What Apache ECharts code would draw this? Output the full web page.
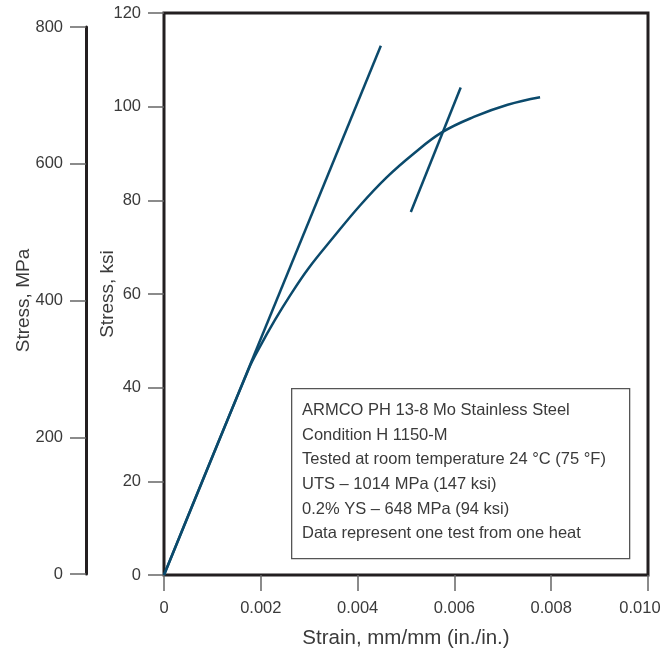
<!DOCTYPE html>
<html><head><meta charset="utf-8">
<script src="https://cdn.jsdelivr.net/npm/echarts@6/dist/echarts.min.js"></script>
<style>html,body{margin:0;padding:0;background:#fff;overflow:hidden}#c{width:663px;height:650px}</style>
</head><body><div id="c"></div>
<script>
const FONT = '"Liberation Sans",Arial,sans-serif';
const TXT = '#3a3a3a';
const LINE = '#0b4a6c';

// Stress-strain curve (strain mm/mm, stress ksi)
const curveStrain = [0, 0.00175, 0.00198, 0.00229, 0.0026, 0.00298, 0.0035, 0.00405, 0.0046, 0.00515, 0.00574, 0.0064, 0.0071, 0.00777];
const curveKsi    = [0, 44.0,    48.7,    54.4,    59.6,   65.4,    72.1,   78.9,    84.9,   89.9,    94.5,    97.8,   100.4,  102.0];
// Modulus line
const modulusStrain = [0, 0.00448];
const modulusKsi    = [0, 113.0];
// 0.2% offset line
const offsetStrain = [0.0051, 0.00613];
const offsetKsi    = [77.5, 104.1];

const xTicks = [0, 0.002, 0.004, 0.006, 0.008, 0.010];
const ksiTicks = [0, 20, 40, 60, 80, 100, 120];
const mpaTicks = [0, 200, 400, 600, 800];

const noteLines = [
  'ARMCO PH 13-8 Mo Stainless Steel',
  'Condition H 1150-M',
  'Tested at room temperature 24 °C (75 °F)',
  'UTS – 1014 MPa (147 ksi)',
  '0.2% YS – 648 MPa (94 ksi)',
  'Data represent one test from one heat'
];

const zip = (a, b) => a.map((v, i) => [v, b[i]]);
const chart = echarts.init(document.getElementById('c'), null, {renderer: 'canvas', width: 663, height: 650});
const tickStyle = {show: true, length: 16, lineStyle: {color: '#666', width: 1.5}};
const lbl = {color: TXT, fontFamily: FONT, fontSize: 16.5};
const xMax = xTicks[xTicks.length - 1];

chart.setOption({
  animation: false,
  grid: [
    {left: 164, right: 15, top: 13, bottom: 75, show: true, borderColor: '#231f20', borderWidth: 3,
     backgroundColor: 'transparent', containLabel: false, outerBoundsMode: 'none'},
    {left: 86, width: 1, top: 27, bottom: 76, show: false, containLabel: false, outerBoundsMode: 'none'}
  ],
  xAxis: [
    {type: 'value', gridIndex: 0, min: xTicks[0], max: xMax, interval: 0.002,
     axisLine: {show: false}, axisTick: tickStyle, splitLine: {show: false},
     axisLabel: Object.assign({}, lbl, {margin: 25,
       formatter: v => v === 0 ? '0' : (Math.abs(v - xMax) < 1e-9 ? '{last|' + v.toFixed(3) + '}' : v.toFixed(3)),
       rich: {last: {color: TXT, fontFamily: FONT, fontSize: 16.5, padding: [0, 16, 0, 0]}}}),
     name: 'Strain, mm/mm (in./in.)', nameLocation: 'middle', nameGap: 53, nameMoveOverlap: false,
     nameTextStyle: {color: TXT, fontFamily: FONT, fontSize: 20.5}},
    {type: 'value', gridIndex: 1, show: false, min: 0, max: 1}
  ],
  yAxis: [
    {type: 'value', gridIndex: 0, min: ksiTicks[0], max: ksiTicks[ksiTicks.length - 1], interval: 20,
     axisLine: {show: false}, axisTick: tickStyle, splitLine: {show: false},
     axisLabel: Object.assign({}, lbl, {margin: 23}),
     name: 'Stress, ksi', nameLocation: 'middle', nameGap: 47, nameRotate: 90, nameMoveOverlap: false,
     nameTextStyle: {color: TXT, fontFamily: FONT, fontSize: 19}},
    {type: 'value', gridIndex: 1, min: mpaTicks[0], max: mpaTicks[mpaTicks.length - 1], interval: 200,
     axisLine: {show: true, lineStyle: {color: '#231f20', width: 3}}, axisTick: tickStyle, splitLine: {show: false},
     axisLabel: Object.assign({}, lbl, {margin: 23}),
     name: 'Stress, MPa', nameLocation: 'middle', nameGap: 53, nameRotate: 90, nameMoveOverlap: false,
     nameTextStyle: {color: TXT, fontFamily: FONT, fontSize: 19}}
  ],
  series: [
    {type: 'line', xAxisIndex: 0, yAxisIndex: 0, data: zip(modulusStrain, modulusKsi), symbol: 'none',
     lineStyle: {color: LINE, width: 2.5}},
    {type: 'line', xAxisIndex: 0, yAxisIndex: 0, data: zip(offsetStrain, offsetKsi), symbol: 'none',
     lineStyle: {color: LINE, width: 2.5}},
    {type: 'line', xAxisIndex: 0, yAxisIndex: 0, data: zip(curveStrain, curveKsi), symbol: 'none',
     smooth: 0.4, lineStyle: {color: LINE, width: 2.5}}
  ],
  graphic: [
    {type: 'rect', left: 291, top: 388, shape: {width: 338, height: 170}, z: 10,
     style: {fill: '#fff', stroke: '#555', lineWidth: 1.3}},
    {type: 'text', left: 302, top: 398, z: 11,
     style: {text: noteLines.join('\n'), fill: TXT, font: '16.5px ' + FONT, lineHeight: 24.7}}
  ]
});
</script></body></html>
